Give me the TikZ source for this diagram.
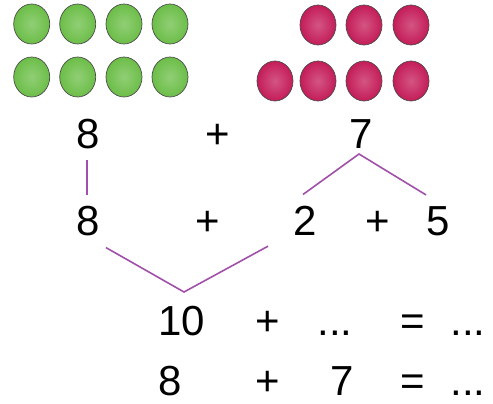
\documentclass[tikz,border=0pt]{standalone}
\usepackage{fontspec}
\setmainfont{Liberation Sans}
\usetikzlibrary{positioning, calc}
\definecolor{dotgreen}{RGB}{108,190,72}
\definecolor{dotred}{RGB}{196,28,88}
\definecolor{linkviolet}{RGB}{160,80,168}

\begin{document}
\begin{tikzpicture}[
  x=1pt, y=-1pt,
  num/.style={font=\fontsize{42}{50}\selectfont, inner sep=0pt, anchor=base},
  link/.style={draw=linkviolet, line width=1.6pt},
  dot/.style={draw=gray!60!black, line width=0.7pt, inner color=#1!75!white, outer color=#1},
]
\useasboundingbox (0,0) rectangle (493,404);

% counters
\foreach \x in {31.7,77.7,124,170}{
  \foreach \y in {24,77}{
    \shade[dot=dotgreen] (\x,\y) ellipse [x radius=18, y radius=20];
  }
}
\foreach \x in {318,364,411}{
  \shade[dot=dotred] (\x,25) ellipse [x radius=18, y radius=20];
}
\foreach \x in {275,318,364,411}{
  \shade[dot=dotred] (\x,81) ellipse [x radius=18, y radius=20];
}

% first row
\node[num] (top8) at (88,148) {8};
\node[num] (topplus) at (218,148) {+};
\node[num] (top7) at (361,148) {7};

% second row
\node[num] (mid8) at (88,235) {8};
\node[num] (midplusa) at (208,235) {+};
\node[num] (mid2) at (305,235) {2};
\node[num] (midplusb) at (378,235) {+};
\node[num] (mid5) at (438,235) {5};

% third row
\node[num] (ten) at (182,335) {10};
\node[num] (sumplus) at (268,335) {+};
\node[num] (gap) at (335,335) {...};
\node[num] (sumeq) at (413,335) {=};
\node[num] (sumres) at (468,335) {...};

% fourth row
\node[num] (low8) at (170,395) {8};
\node[num] (lowplus) at (268,395) {+};
\node[num] (low7) at (342,395) {7};
\node[num] (loweq) at (413,395) {=};
\node[num] (lowres) at (468,395) {...};

\coordinate (split) at (359,154);
\coordinate (join) at (184,292);

\draw[link] ($(top8.south)+(-1,11)$) -- ($(mid8.north)+(-1,-10)$);
\draw[link] ($(mid2.north)+(-2,-11)$) -- (split) -- ($(mid5.north)+(-12,-11)$);
\draw[link] ($(mid8.south)+(18,12)$) -- (join) -- ($(mid2.south)+(-37,11)$);
\end{tikzpicture}
\end{document}
